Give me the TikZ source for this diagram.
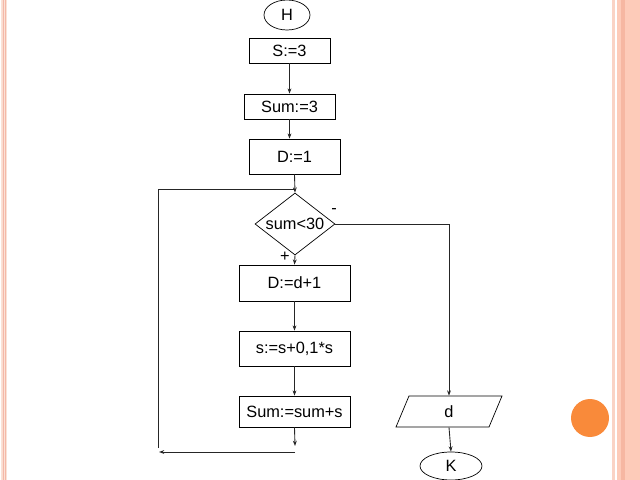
\documentclass[tikz,border=0pt]{standalone}
\usepackage{fontspec}
\setmainfont{Liberation Sans}
\usetikzlibrary{shapes.geometric,arrows.meta}
\begin{document}
\begin{tikzpicture}[x=0.02cm, y=-0.02cm,
  font=\fontsize{9.3}{10}\selectfont,
  box/.style={draw, rectangle, inner sep=0pt, minimum height=0.5cm},
  term/.style={draw, ellipse, inner sep=0pt},
  cond/.style={draw, diamond, inner sep=0pt, aspect=1.3, minimum width=1.6cm, minimum height=1.24cm},
  io/.style={draw, trapezium, trapezium left angle=83, trapezium right angle=97, trapezium stretches=true, inner sep=0pt, minimum width=2.12cm, minimum height=0.62cm},
  line/.style={line width=0.5pt, draw=black!85},
  arr/.style={line, -{Stealth[length=3pt, width=2.2pt]}}]
\useasboundingbox (0,0) rectangle (640,480);
% slide frame
\definecolor{col}{HTML}{FBE2D6}
\fill[col] (1,0) rectangle (7,480);
\definecolor{col}{HTML}{F4B8A8}
\fill[col] (3,0) rectangle (3.8,480) (5,0) rectangle (5.8,480);
\definecolor{col}{HTML}{FAD3C5}
\fill[col] (612,0) rectangle (614.5,480);
\definecolor{col}{HTML}{FDCBB9}
\fill[col] (617,0) rectangle (640,480);
\definecolor{col}{HTML}{F6B7A2}
\fill[col] (621,0) rectangle (625,480);
\definecolor{col}{HTML}{F98A3A}
\fill[col] (590,418) circle[radius=19];
% flowchart
\node[term, minimum width=0.92cm, minimum height=0.6cm] (start) at (287,15) {H};
\node[box, minimum width=1.62cm] (sinit) at (289.5,50.5) {S:=3};
\node[box, minimum width=1.82cm] (suminit) at (289.5,106.5) {Sum:=3};
\node[box, minimum width=1.82cm, minimum height=0.7cm] (dinit) at (294.5,156.5) {D:=1};
\node[cond] (test) at (295,224) {sum<30};
\node[box, minimum width=2.22cm, minimum height=0.72cm] (dinc) at (294.5,283) {D:=d+1};
\node[box, minimum width=2.22cm, minimum height=0.7cm] (sinc) at (294.5,348.5) {s:=s+0,1*s};
\node[box, minimum width=2.22cm, minimum height=0.62cm] (sumadd) at (294.5,411.5) {Sum:=sum+s};
\node[io] (out) at (449,411.5) {d};
\node[term, minimum width=1.24cm, minimum height=0.56cm] (stop) at (451,466) {K};
\node at (334,211) {-};
\node at (285,257) {+};
% connectors
\coordinate (join) at (295,189);
\coordinate (retT) at (295,452);
\coordinate (retL) at (159,452);
\coordinate (loopB) at (158,448);
\draw[arr] (sinit.south) -- (suminit.north);
\draw[arr] (suminit.south) -- (suminit.south |- dinit.north);
\draw[arr] (dinit.south) -- (test.north);
\draw[line] (loopB) |- (join);
\draw[arr] (test.east) -| (out.north);
\draw[arr] (test.south) -- (dinc.north);
\draw[arr] (dinc.south) -- (sinc.north);
\draw[arr] (sinc.south) -- (sumadd.north);
\draw[arr] (sumadd.south) -- (295,446);
\draw[arr] (retT) -- (retL);
\draw[arr] (out.south) -- (stop.north);
\end{tikzpicture}
\end{document}
